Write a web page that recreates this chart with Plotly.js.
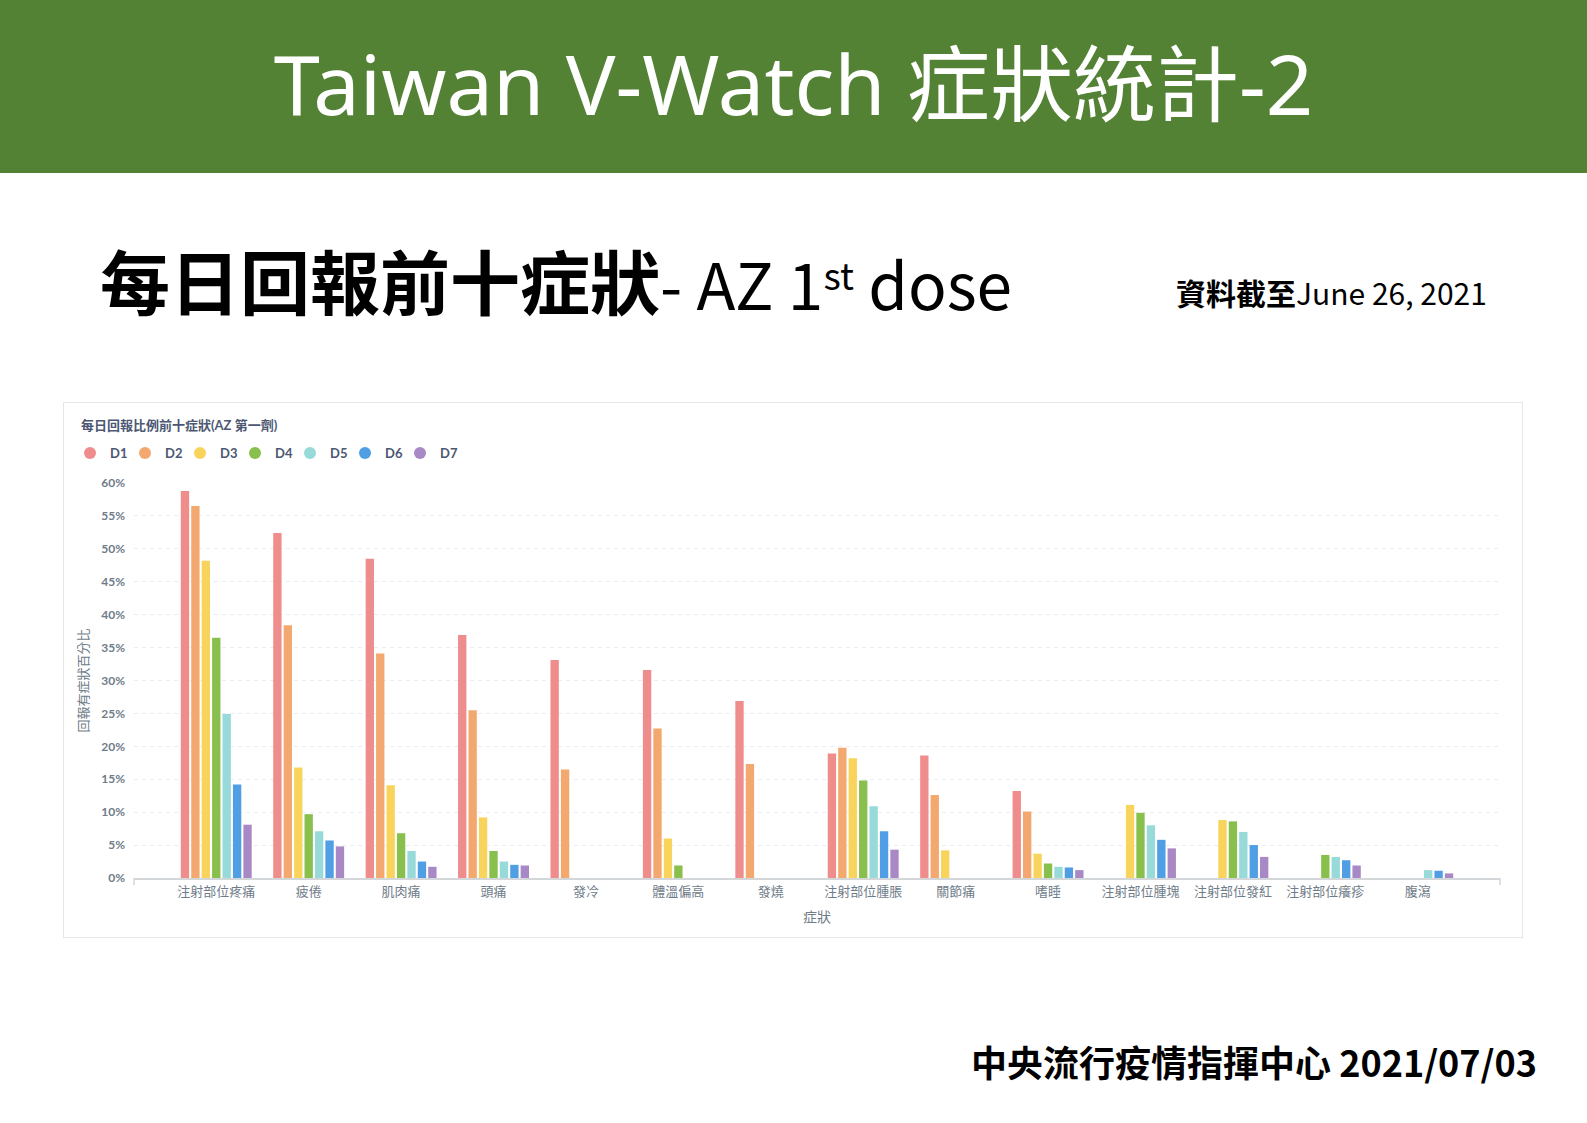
<!DOCTYPE html>
<html>
<head>
<meta charset="utf-8">
<script src="https://cdn.plot.ly/plotly-3.0.1.min.js"></script>
<style>
  html, body { margin:0; padding:0; }
  body { width:1587px; height:1123px; position:relative; background:#ffffff; overflow:hidden;
         font-family:"Noto Sans CJK TC","Noto Sans",sans-serif; }
  #banner { position:absolute; left:0; top:0; width:1587px; height:173px; background:#548235; }
  #banner .t { position:absolute; left:0; width:1587px; top:28px; text-align:center; color:#ffffff;
               font-family:"Noto Sans","Noto Sans CJK TC",sans-serif; font-size:83px; line-height:110px; white-space:nowrap; }
  #sub { position:absolute; left:100px; top:235px; font-size:70px; line-height:90px; color:#000; white-space:nowrap; }
  #sub b { font-weight:700; }
  #sub .lat { font-weight:400; font-size:64px; }
  #sub sup { font-size:37px; vertical-align:top; position:relative; top:-6px; }
  #asof { position:absolute; left:1176px; top:272px; font-size:30px; line-height:40px; color:#000; white-space:nowrap; }
  #asof b { font-weight:700; }
  #foot { position:absolute; left:971px; top:1036px; font-size:36px; line-height:50px; color:#000; font-weight:700; white-space:nowrap; }
  #chartbox { position:absolute; left:63px; top:402px; width:1458px; height:534px; border:1px solid #e4e7e9; }
  #chart { width:1458px; height:534px; }
</style>
</head>
<body>
<div id="banner"><div class="t">Taiwan V-Watch 症狀統計-2</div></div>
<div id="sub"><b>每日回報前十症狀</b><span class="lat">- AZ 1<sup>st</sup> dose</span></div>
<div id="asof"><b>資料截至</b>June 26, 2021</div>
<div id="foot">中央流行疫情指揮中心 2021/07/03</div>
<div id="chartbox"><div id="chart"></div></div>
<script>
// ---- data ----
const categories = ['注射部位疼痛','疲倦','肌肉痛','頭痛','發冷','體溫偏高','發燒','注射部位腫脹','關節痛','嗜睡','注射部位腫塊','注射部位發紅','注射部位癢疹','腹瀉'];
const seriesNames = ['D1','D2','D3','D4','D5','D6','D7'];
const D1 = [58.8, 52.4, 48.5, 36.9, 33.1, 31.6, 26.9, 18.9, 18.6, 13.2, null, null, null, null];
const D2 = [56.5, 38.4, 34.1, 25.5, 16.5, 22.7, 17.3, 19.8, 12.6, 10.1, null, null, null, null];
const D3 = [48.2, 16.8, 14.1,  9.2, null,  6.0, null, 18.2,  4.2,  3.7, 11.1,  8.8, null, null];
const D4 = [36.5,  9.7,  6.8,  4.1, null,  1.9, null, 14.8, null,  2.2,  9.9,  8.6,  3.5, null];
const D5 = [24.9,  7.1,  4.1,  2.5, null, null, null, 10.9, null,  1.7,  8.0,  7.0,  3.2,  1.2];
const D6 = [14.2,  5.7,  2.5,  2.0, null, null, null,  7.1, null,  1.6,  5.8,  5.0,  2.7,  1.1];
const D7 = [ 8.1,  4.8,  1.7,  1.9, null, null, null,  4.3, null,  1.2,  4.5,  3.2,  1.9,  0.7];
const yTicks = [0,5,10,15,20,25,30,35,40,45,50,55,60];
const yTickLabels = ['0%','5%','10%','15%','20%','25%','30%','35%','40%','45%','50%','55%','60%'];

// ---- styles ----
const colors = ['#EF8C8C','#F2A86F','#F9D45C','#88BF4D','#98D9D9','#509EE3','#A989C5'];
const seriesValues = [D1,D2,D3,D4,D5,D6,D7];
const axisGrey = '#6f7c89';
const lineGrey = '#d3d7da';

const traces = [];
seriesValues.forEach((vals, i) => {
  traces.push({
    type:'bar', name:seriesNames[i], x:categories, y:vals,
    marker:{color:colors[i]}, showlegend:false, legendgroup:seriesNames[i]
  });
});
seriesValues.forEach((vals, i) => {
  traces.push({
    type:'scatter', mode:'markers', name:seriesNames[i], x:[null], y:[null],
    marker:{color:colors[i], size:12, symbol:'circle'}, showlegend:true, legendgroup:seriesNames[i],
    hoverinfo:'skip'
  });
});
// invisible spacer entry so the last legend label is not clipped
traces.push({
  type:'scatter', mode:'markers', name:' ', x:[null], y:[null],
  marker:{color:'rgba(0,0,0,0)', size:1}, showlegend:true, hoverinfo:'skip'
});

const W = 1458, H = 534;
const layout = {
  width:W, height:H,
  margin:{l:70, r:22, t:80, b:59, pad:0},
  paper_bgcolor:'#ffffff', plot_bgcolor:'#ffffff',
  font:{family:'Lato, "Noto Sans CJK TC", sans-serif', color:axisGrey},
  title:{
    text:'每日回報比例前十症狀(AZ 第一劑)',
    font:{family:'Lato, "Noto Sans CJK TC", sans-serif', size:13, color:'#4c5773', weight:700},
    xref:'container', x:17/W, xanchor:'left',
    yref:'container', y:1-22/H, yanchor:'middle'
  },
  showlegend:true,
  legend:{
    orientation:'h', xref:'container', yref:'container',
    x:6/W, xanchor:'left', y:1-50/H, yanchor:'middle',
    font:{family:'Lato, sans-serif', size:13, color:'#4c5773', weight:700},
    itemwidth:30, entrywidth:10, entrywidthmode:'pixels',
    bgcolor:'rgba(0,0,0,0)', borderwidth:0, traceorder:'normal'
  },
  barmode:'group', bargap:0.21, bargroupgap:0.2,
  xaxis:{
    type:'category', range:[-0.89, 13.89], showgrid:false, zeroline:false,
    showline:true, linecolor:lineGrey, linewidth:1.5, ticks:'',
    tickfont:{family:'"Noto Sans CJK TC", sans-serif', size:13, color:axisGrey},
    ticklabelstandoff:1,
    title:{text:'症狀', font:{family:'"Noto Sans CJK TC", sans-serif', size:14, color:axisGrey}, standoff:13},
    fixedrange:true, automargin:false
  },
  yaxis:{
    range:[0,60], tickmode:'array', tickvals:yTicks, ticktext:yTickLabels,
    showgrid:true, gridcolor:'#ebedef', griddash:'4px,4px', gridwidth:1,
    zeroline:false, showline:false, ticks:'',
    tickfont:{family:'Lato, sans-serif', size:12, color:axisGrey, weight:'bold'},
    ticklabelstandoff:8,
    title:{text:'回報有症狀百分比', font:{family:'"Noto Sans CJK TC", sans-serif', size:13, color:axisGrey}, standoff:9},
    fixedrange:true, automargin:false
  },
  shapes:[
    {type:'line', xref:'paper', yref:'paper', ysizemode:'pixel', yanchor:0, x0:0, x1:0, y0:0, y1:-7, line:{color:lineGrey, width:1.5}},
    {type:'line', xref:'paper', yref:'paper', ysizemode:'pixel', yanchor:0, x0:1, x1:1, y0:0, y1:-7, line:{color:lineGrey, width:1.5}}
  ]
};

Plotly.newPlot('chart', traces, layout, {displayModeBar:false, staticPlot:true});
</script>
</body>
</html>
